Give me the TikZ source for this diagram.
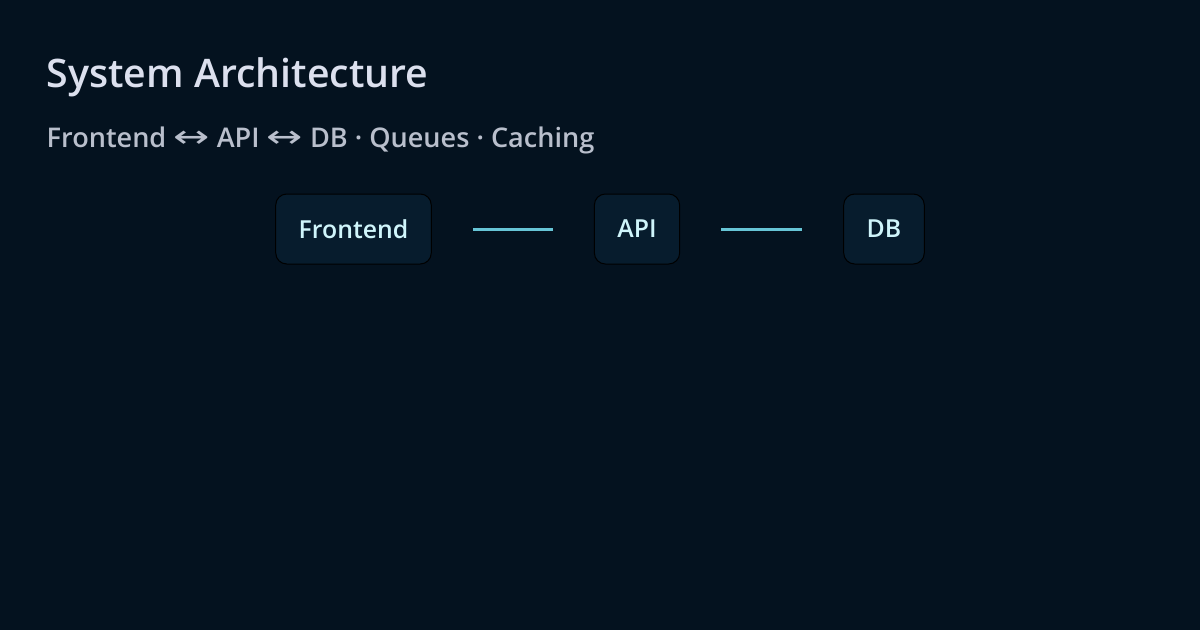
\documentclass[tikz,border=0pt]{standalone}
\usepackage{fontspec}
\usepackage{graphicx}
\setmainfont{Open Sans}
\newfontfamily\semifont{Open Sans Semibold}
\newfontfamily\arrowfont{DejaVu Sans}
\newcommand{\lrarrow}{{\arrowfont\scalebox{1.6}[1.15]{↔}}}
\usepackage{tikz}
\definecolor{bgnavy}{HTML}{04121F}
\definecolor{boxfill}{HTML}{071C2D}
\definecolor{boxtext}{HTML}{CFF5FB}
\definecolor{linkcyan}{HTML}{67C5D6}
\definecolor{titlegrey}{HTML}{DCE0EE}
\definecolor{subgrey}{HTML}{B9BFCC}
\tikzset{
	svcbox/.style={draw=black, line width=1pt, fill=boxfill, rounded corners=11pt, minimum height=70pt, inner xsep=23pt, text=boxtext, font=\fontsize{24.8}{28}\semifont},
	svclink/.style={draw=linkcyan, line width=3pt, shorten >=41pt, shorten <=41pt}
}

\begin{document}
\begin{tikzpicture}[x=1pt, y=-1pt]
		%%%%% START %%%%%
		
		\fill[bgnavy] (0, 0) rectangle (1200, 630);
		\useasboundingbox (0, 0) rectangle (1200, 630);
		
		\node[anchor=base west, inner sep=0pt, text=titlegrey, font=\fontsize{39.3}{44}\semifont] (title) at (46.5, 87) {System Architecture};
		\node[anchor=base west, inner sep=0pt, text=subgrey, font=\fontsize{27.1}{32}\semifont] (subtitle) at (46.5, 147) {Frontend \lrarrow{} API \lrarrow{} DB · Queues · Caching};
		
		\node[svcbox] (frontend) at (353.5, 229) {Frontend};
		\node[svcbox] (api) at (637, 229) {API};
		\node[svcbox] (db) at (884, 229) {DB};
		
		\draw[svclink] (frontend) -- (api);
		\draw[svclink] (api) -- (db);
		
		%%%%% END %%%%%
	\end{tikzpicture}
\end{document}
